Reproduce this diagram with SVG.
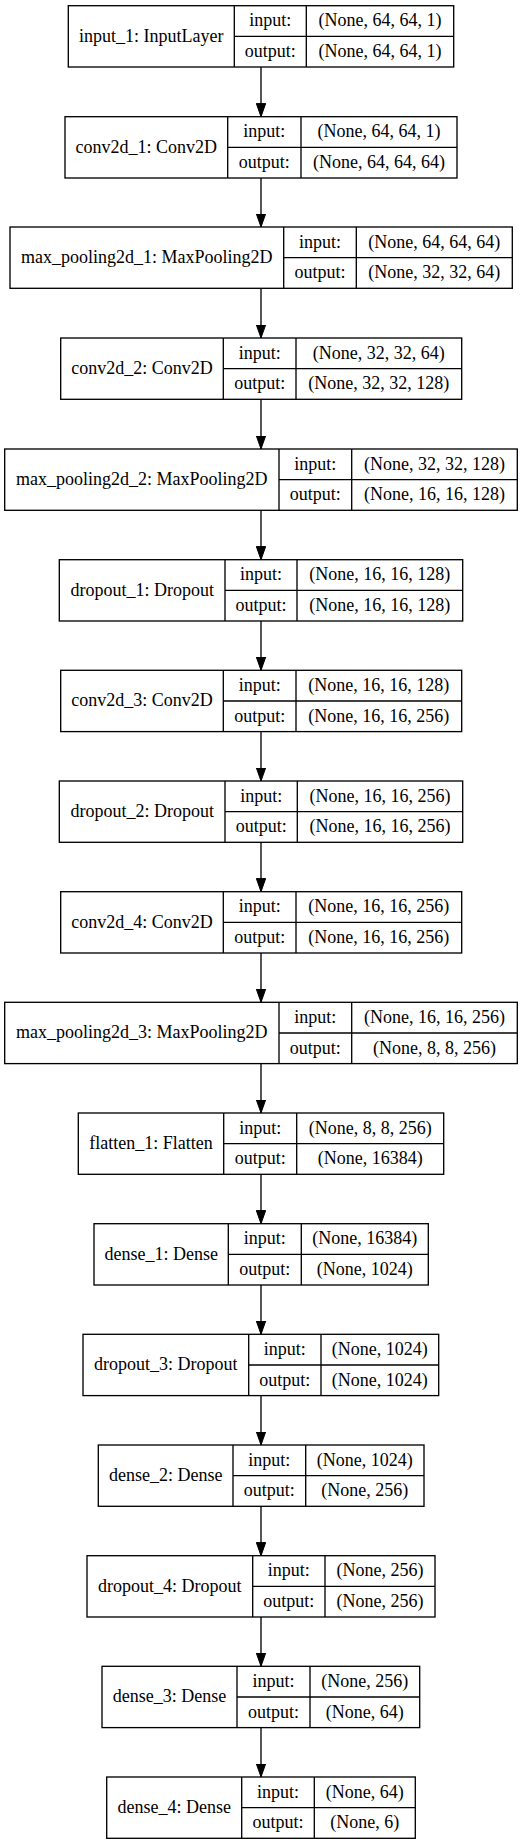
<svg xmlns="http://www.w3.org/2000/svg" width="527" height="1844" viewBox="0 0 527 1844">
<style>
rect.n{fill:#fff;stroke:#000;stroke-width:1.33}
line.d{stroke:#000;stroke-width:1.33}
text{font-family:"Liberation Serif","Times New Roman",serif;font-size:18px;fill:#000;text-anchor:middle}
.e{stroke:#000;stroke-width:1.33;fill:none;marker-end:url(#ah)}
</style>
<defs>
<marker id="ah" viewBox="0 0 13.3 9.4" refX="13.3" refY="4.7" markerUnits="userSpaceOnUse" markerWidth="13.3" markerHeight="9.4" orient="auto">
<path d="M0,0 L13.3,4.7 L0,9.4 z" fill="#000" stroke="#000" stroke-width="1"/>
</marker>
</defs>
<rect width="527" height="1844" fill="#fff"/>
<g id="edges">
<path class="e" d="M261,67 V116.7"/>
<path class="e" d="M261,177.7 V227"/>
<path class="e" d="M261,288.3 V338"/>
<path class="e" d="M261,399.3 V449"/>
<path class="e" d="M261,510.3 V559.7"/>
<path class="e" d="M261,621 V670.3"/>
<path class="e" d="M261,731.6 V781"/>
<path class="e" d="M261,842.3 V891.7"/>
<path class="e" d="M261,953 V1002.3"/>
<path class="e" d="M261,1063.6 V1113"/>
<path class="e" d="M261,1174.3 V1223.7"/>
<path class="e" d="M261,1285 V1334.3"/>
<path class="e" d="M261,1395.6 V1445"/>
<path class="e" d="M261,1506.3 V1555.7"/>
<path class="e" d="M261,1617 V1666.3"/>
<path class="e" d="M261,1727.6 V1777"/>
</g>
<g id="input_1" transform="translate(0,5.7)">
<rect class="n" x="68.3" y="0" width="385.4" height="61.3"/>
<line class="d" x1="234.3" y1="0" x2="234.3" y2="61.3"/><line class="d" x1="306.3" y1="0" x2="306.3" y2="61.3"/><line class="d" x1="234.3" y1="30.7" x2="453.7" y2="30.7"/>
<text x="151.3" y="36.2">input_1: InputLayer</text>
<text x="270.3" y="20.6">input:</text><text x="380" y="20.6">(None, 64, 64, 1)</text>
<text x="270.3" y="51.3">output:</text><text x="380" y="51.3">(None, 64, 64, 1)</text>
</g>
<g id="conv2d_1" transform="translate(0,116.7)">
<rect class="n" x="65" y="0" width="392" height="61.3"/>
<line class="d" x1="227.7" y1="0" x2="227.7" y2="61.3"/><line class="d" x1="301" y1="0" x2="301" y2="61.3"/><line class="d" x1="227.7" y1="30.7" x2="457" y2="30.7"/>
<text x="146.3" y="36.2">conv2d_1: Conv2D</text>
<text x="264.3" y="20.6">input:</text><text x="379" y="20.6">(None, 64, 64, 1)</text>
<text x="264.3" y="51.3">output:</text><text x="379" y="51.3">(None, 64, 64, 64)</text>
</g>
<g id="max_pooling2d_1" transform="translate(0,227)">
<rect class="n" x="10" y="0" width="502.3" height="61.3"/>
<line class="d" x1="283.7" y1="0" x2="283.7" y2="61.3"/><line class="d" x1="356.3" y1="0" x2="356.3" y2="61.3"/><line class="d" x1="283.7" y1="30.7" x2="512.3" y2="30.7"/>
<text x="146.8" y="36.2">max_pooling2d_1: MaxPooling2D</text>
<text x="320" y="20.6">input:</text><text x="434.3" y="20.6">(None, 64, 64, 64)</text>
<text x="320" y="51.3">output:</text><text x="434.3" y="51.3">(None, 32, 32, 64)</text>
</g>
<g id="conv2d_2" transform="translate(0,338)">
<rect class="n" x="60.7" y="0" width="401" height="61.3"/>
<line class="d" x1="223.3" y1="0" x2="223.3" y2="61.3"/><line class="d" x1="296" y1="0" x2="296" y2="61.3"/><line class="d" x1="223.3" y1="30.7" x2="461.7" y2="30.7"/>
<text x="142" y="36.2">conv2d_2: Conv2D</text>
<text x="259.7" y="20.6">input:</text><text x="378.8" y="20.6">(None, 32, 32, 64)</text>
<text x="259.7" y="51.3">output:</text><text x="378.8" y="51.3">(None, 32, 32, 128)</text>
</g>
<g id="max_pooling2d_2" transform="translate(0,449)">
<rect class="n" x="4.7" y="0" width="512.6" height="61.3"/>
<line class="d" x1="279" y1="0" x2="279" y2="61.3"/><line class="d" x1="351.7" y1="0" x2="351.7" y2="61.3"/><line class="d" x1="279" y1="30.7" x2="517.3" y2="30.7"/>
<text x="141.8" y="36.2">max_pooling2d_2: MaxPooling2D</text>
<text x="315.3" y="20.6">input:</text><text x="434.5" y="20.6">(None, 32, 32, 128)</text>
<text x="315.3" y="51.3">output:</text><text x="434.5" y="51.3">(None, 16, 16, 128)</text>
</g>
<g id="dropout_1" transform="translate(0,559.7)">
<rect class="n" x="59.3" y="0" width="403.4" height="61.3"/>
<line class="d" x1="225" y1="0" x2="225" y2="61.3"/><line class="d" x1="297" y1="0" x2="297" y2="61.3"/><line class="d" x1="225" y1="30.7" x2="462.7" y2="30.7"/>
<text x="142.2" y="36.2">dropout_1: Dropout</text>
<text x="261" y="20.6">input:</text><text x="379.8" y="20.6">(None, 16, 16, 128)</text>
<text x="261" y="51.3">output:</text><text x="379.8" y="51.3">(None, 16, 16, 128)</text>
</g>
<g id="conv2d_3" transform="translate(0,670.3)">
<rect class="n" x="60.7" y="0" width="401" height="61.3"/>
<line class="d" x1="223.3" y1="0" x2="223.3" y2="61.3"/><line class="d" x1="296" y1="0" x2="296" y2="61.3"/><line class="d" x1="223.3" y1="30.7" x2="461.7" y2="30.7"/>
<text x="142" y="36.2">conv2d_3: Conv2D</text>
<text x="259.7" y="20.6">input:</text><text x="378.8" y="20.6">(None, 16, 16, 128)</text>
<text x="259.7" y="51.3">output:</text><text x="378.8" y="51.3">(None, 16, 16, 256)</text>
</g>
<g id="dropout_2" transform="translate(0,781)">
<rect class="n" x="59.3" y="0" width="403.4" height="61.3"/>
<line class="d" x1="225" y1="0" x2="225" y2="61.3"/><line class="d" x1="297.3" y1="0" x2="297.3" y2="61.3"/><line class="d" x1="225" y1="30.7" x2="462.7" y2="30.7"/>
<text x="142.2" y="36.2">dropout_2: Dropout</text>
<text x="261.2" y="20.6">input:</text><text x="380" y="20.6">(None, 16, 16, 256)</text>
<text x="261.2" y="51.3">output:</text><text x="380" y="51.3">(None, 16, 16, 256)</text>
</g>
<g id="conv2d_4" transform="translate(0,891.7)">
<rect class="n" x="60.7" y="0" width="401" height="61.3"/>
<line class="d" x1="223.3" y1="0" x2="223.3" y2="61.3"/><line class="d" x1="296" y1="0" x2="296" y2="61.3"/><line class="d" x1="223.3" y1="30.7" x2="461.7" y2="30.7"/>
<text x="142" y="36.2">conv2d_4: Conv2D</text>
<text x="259.7" y="20.6">input:</text><text x="378.8" y="20.6">(None, 16, 16, 256)</text>
<text x="259.7" y="51.3">output:</text><text x="378.8" y="51.3">(None, 16, 16, 256)</text>
</g>
<g id="max_pooling2d_3" transform="translate(0,1002.3)">
<rect class="n" x="4.7" y="0" width="512.6" height="61.3"/>
<line class="d" x1="279" y1="0" x2="279" y2="61.3"/><line class="d" x1="351.7" y1="0" x2="351.7" y2="61.3"/><line class="d" x1="279" y1="30.7" x2="517.3" y2="30.7"/>
<text x="141.8" y="36.2">max_pooling2d_3: MaxPooling2D</text>
<text x="315.3" y="20.6">input:</text><text x="434.5" y="20.6">(None, 16, 16, 256)</text>
<text x="315.3" y="51.3">output:</text><text x="434.5" y="51.3">(None, 8, 8, 256)</text>
</g>
<g id="flatten_1" transform="translate(0,1113)">
<rect class="n" x="78.3" y="0" width="365.4" height="61.3"/>
<line class="d" x1="223.7" y1="0" x2="223.7" y2="61.3"/><line class="d" x1="296.7" y1="0" x2="296.7" y2="61.3"/><line class="d" x1="223.7" y1="30.7" x2="443.7" y2="30.7"/>
<text x="151" y="36.2">flatten_1: Flatten</text>
<text x="260.2" y="20.6">input:</text><text x="370.2" y="20.6">(None, 8, 8, 256)</text>
<text x="260.2" y="51.3">output:</text><text x="370.2" y="51.3">(None, 16384)</text>
</g>
<g id="dense_1" transform="translate(0,1223.7)">
<rect class="n" x="94" y="0" width="334.3" height="61.3"/>
<line class="d" x1="228.3" y1="0" x2="228.3" y2="61.3"/><line class="d" x1="301.3" y1="0" x2="301.3" y2="61.3"/><line class="d" x1="228.3" y1="30.7" x2="428.3" y2="30.7"/>
<text x="161.2" y="36.2">dense_1: Dense</text>
<text x="264.8" y="20.6">input:</text><text x="364.8" y="20.6">(None, 16384)</text>
<text x="264.8" y="51.3">output:</text><text x="364.8" y="51.3">(None, 1024)</text>
</g>
<g id="dropout_3" transform="translate(0,1334.3)">
<rect class="n" x="83" y="0" width="355.7" height="61.3"/>
<line class="d" x1="248.7" y1="0" x2="248.7" y2="61.3"/><line class="d" x1="321" y1="0" x2="321" y2="61.3"/><line class="d" x1="248.7" y1="30.7" x2="438.7" y2="30.7"/>
<text x="165.8" y="36.2">dropout_3: Dropout</text>
<text x="284.8" y="20.6">input:</text><text x="379.8" y="20.6">(None, 1024)</text>
<text x="284.8" y="51.3">output:</text><text x="379.8" y="51.3">(None, 1024)</text>
</g>
<g id="dense_2" transform="translate(0,1445)">
<rect class="n" x="98.3" y="0" width="325.7" height="61.3"/>
<line class="d" x1="233" y1="0" x2="233" y2="61.3"/><line class="d" x1="305.7" y1="0" x2="305.7" y2="61.3"/><line class="d" x1="233" y1="30.7" x2="424" y2="30.7"/>
<text x="165.7" y="36.2">dense_2: Dense</text>
<text x="269.3" y="20.6">input:</text><text x="364.8" y="20.6">(None, 1024)</text>
<text x="269.3" y="51.3">output:</text><text x="364.8" y="51.3">(None, 256)</text>
</g>
<g id="dropout_4" transform="translate(0,1555.7)">
<rect class="n" x="87" y="0" width="348" height="61.3"/>
<line class="d" x1="252.7" y1="0" x2="252.7" y2="61.3"/><line class="d" x1="325" y1="0" x2="325" y2="61.3"/><line class="d" x1="252.7" y1="30.7" x2="435" y2="30.7"/>
<text x="169.8" y="36.2">dropout_4: Dropout</text>
<text x="288.8" y="20.6">input:</text><text x="380" y="20.6">(None, 256)</text>
<text x="288.8" y="51.3">output:</text><text x="380" y="51.3">(None, 256)</text>
</g>
<g id="dense_3" transform="translate(0,1666.3)">
<rect class="n" x="102" y="0" width="317.7" height="61.3"/>
<line class="d" x1="237" y1="0" x2="237" y2="61.3"/><line class="d" x1="310" y1="0" x2="310" y2="61.3"/><line class="d" x1="237" y1="30.7" x2="419.7" y2="30.7"/>
<text x="169.5" y="36.2">dense_3: Dense</text>
<text x="273.5" y="20.6">input:</text><text x="364.8" y="20.6">(None, 256)</text>
<text x="273.5" y="51.3">output:</text><text x="364.8" y="51.3">(None, 64)</text>
</g>
<g id="dense_4" transform="translate(0,1777)">
<rect class="n" x="106.7" y="0" width="308.6" height="61.3"/>
<line class="d" x1="241.7" y1="0" x2="241.7" y2="61.3"/><line class="d" x1="314.3" y1="0" x2="314.3" y2="61.3"/><line class="d" x1="241.7" y1="30.7" x2="415.3" y2="30.7"/>
<text x="174.2" y="36.2">dense_4: Dense</text>
<text x="278" y="20.6">input:</text><text x="364.8" y="20.6">(None, 64)</text>
<text x="278" y="51.3">output:</text><text x="364.8" y="51.3">(None, 6)</text>
</g>
</svg>
